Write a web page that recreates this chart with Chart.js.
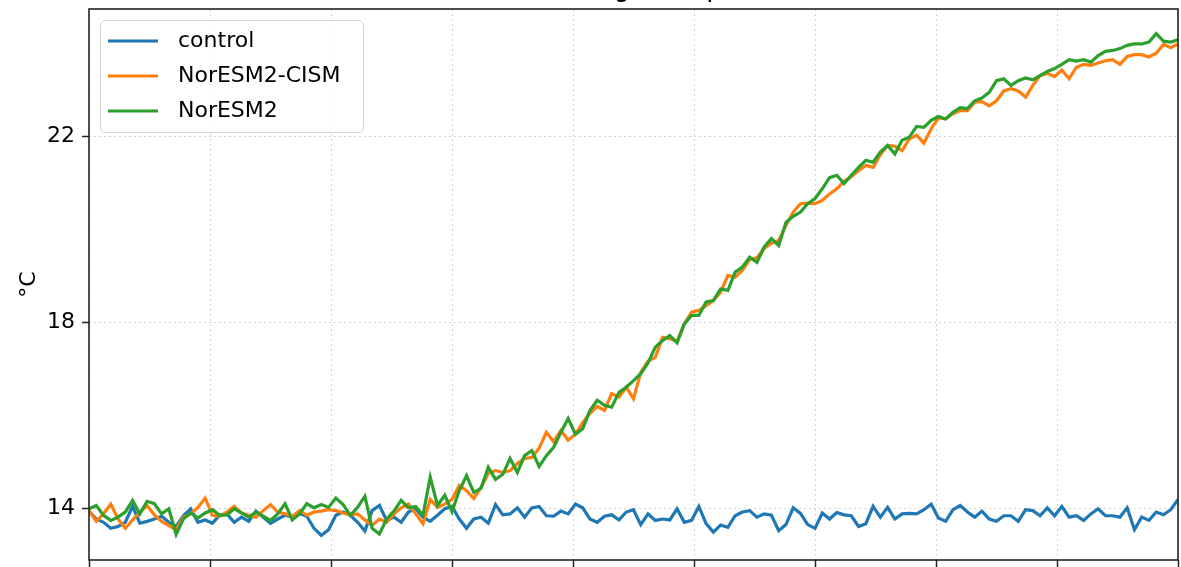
<!DOCTYPE html>
<html>
<head>
<meta charset="utf-8">
<script src="https://cdn.jsdelivr.net/npm/chart.js@4.4.1/dist/chart.umd.min.js"></script>
<style>
html, body { margin: 0; padding: 0; background: #fff; overflow: hidden; width: 1181px; height: 567px; }
#wrap { position: absolute; left: 0; top: -40px; width: 1181px; height: 650px; }
</style>
</head>
<body>
<div id="wrap"><canvas id="myChart" width="1181" height="650"></canvas></div>
<script>
// model years (every 3rd year)
const years = [0,3,6,9,12,15,18,21,24,27,30,33,36,39,42,45,48,51,54,57,60,63,66,69,72,75,78,81,84,87,
  90,93,96,99,102,105,108,111,114,117,120,123,126,129,132,135,138,141,144,147,150,153,156,159,162,165,168,171,174,177,
  180,183,186,189,192,195,198,201,204,207,210,213,216,219,222,225,228,231,234,237,240,243,246,249,252,255,258,261,264,267,
  270,273,276,279,282,285,288,291,294,297,300,303,306,309,312,315,318,321,324,327,330,333,336,339,342,345,348,351,354,357,
  360,363,366,369,372,375,378,381,384,387,390,393,396,399,402,405,408,411,414,417,420,423,426,429,432,435,438,441,444,447,450];

const control = [13.95,13.78,13.71,13.58,13.62,13.71,14.05,13.69,13.73,13.78,13.84,13.71,13.62,13.85,14.0,13.71,13.76,13.69,13.86,13.89,
  13.71,13.82,13.73,13.95,13.82,13.69,13.78,13.86,13.82,13.9,13.84,13.58,13.43,13.55,13.86,13.93,13.86,13.71,13.52,13.96,
  14.07,13.75,13.82,13.71,13.93,14.0,13.82,13.73,13.86,14.0,14.05,13.78,13.58,13.78,13.82,13.69,14.09,13.87,13.89,14.02,
  13.82,14.02,14.05,13.85,13.84,13.95,13.89,14.1,14.02,13.78,13.71,13.84,13.87,13.76,13.93,13.98,13.66,13.89,13.75,13.78,
  13.76,14.0,13.71,13.75,14.05,13.68,13.5,13.65,13.6,13.85,13.93,13.96,13.82,13.89,13.86,13.53,13.66,14.02,13.9,13.66,
  13.58,13.91,13.78,13.92,13.87,13.85,13.62,13.68,14.05,13.82,14.03,13.78,13.89,13.9,13.89,13.98,14.1,13.8,13.73,13.98,
  14.07,13.93,13.82,13.95,13.78,13.73,13.85,13.85,13.73,13.98,13.96,13.85,14.02,13.85,14.05,13.82,13.85,13.75,13.89,14.0,
  13.85,13.85,13.82,14.02,13.55,13.82,13.75,13.93,13.87,13.98,14.2];

const noresm2Cism = [13.96,13.73,13.89,14.1,13.78,13.58,13.76,13.93,14.07,13.87,13.73,13.64,13.55,13.82,13.89,14.03,14.23,13.86,13.84,13.93,
  14.05,13.91,13.86,13.82,13.96,14.09,13.93,13.89,13.84,13.96,13.86,13.93,13.95,13.98,13.96,13.91,13.87,13.89,13.76,13.64,
  13.78,13.71,13.89,14.02,14.1,13.89,13.68,14.2,14.03,14.1,14.2,14.5,14.39,14.22,14.46,14.76,14.82,14.78,14.82,14.97,
  15.08,15.1,15.3,15.64,15.44,15.68,15.47,15.6,15.85,16.05,16.2,16.11,16.47,16.4,16.61,16.36,16.93,17.17,17.25,17.68,
  17.65,17.6,17.97,18.22,18.26,18.36,18.47,18.65,19.01,18.97,19.12,19.35,19.39,19.59,19.7,19.76,20.08,20.37,20.55,20.56,
  20.55,20.62,20.76,20.87,21.03,21.13,21.26,21.37,21.33,21.6,21.8,21.78,21.69,21.94,22.02,21.85,22.16,22.39,22.37,22.48,
  22.55,22.55,22.73,22.74,22.65,22.76,22.97,23.02,22.97,22.84,23.09,23.3,23.35,23.28,23.42,23.23,23.48,23.54,23.52,23.57,
  23.62,23.64,23.54,23.71,23.75,23.75,23.7,23.78,23.97,23.9,23.98];

const noresm2 = [14.0,14.07,13.86,13.75,13.82,13.93,14.18,13.89,14.16,14.11,13.89,14.0,13.45,13.78,13.91,13.8,13.91,13.98,13.86,13.87,
  14.0,13.91,13.82,13.93,13.84,13.75,13.89,14.11,13.76,13.89,14.11,14.02,14.09,14.03,14.23,14.09,13.86,14.03,14.27,13.58,
  13.46,13.78,13.95,14.18,14.02,14.05,13.86,14.68,14.07,14.29,13.94,14.39,14.71,14.35,14.44,14.89,14.63,14.74,15.08,14.78,
  15.14,15.25,14.91,15.14,15.32,15.64,15.94,15.6,15.72,16.11,16.33,16.22,16.18,16.5,16.61,16.75,16.9,17.13,17.47,17.61,
  17.72,17.56,17.97,18.15,18.15,18.44,18.47,18.72,18.69,19.08,19.19,19.4,19.29,19.62,19.8,19.65,20.15,20.28,20.37,20.55,
  20.66,20.87,21.11,21.16,20.98,21.16,21.33,21.48,21.44,21.66,21.8,21.62,21.91,21.98,22.21,22.19,22.34,22.42,22.37,22.51,
  22.61,22.59,22.76,22.82,22.94,23.19,23.23,23.09,23.19,23.25,23.21,23.3,23.39,23.45,23.54,23.64,23.61,23.64,23.59,23.73,
  23.82,23.84,23.88,23.95,23.98,23.98,24.02,24.2,24.04,24.02,24.07];

const xTicks = [0,50,100,150,200,250,300,350,400,450];
const yTicks = [14,18,22];

function pts(vals) {
    return vals.map((v, i) => ({x: years[i], y: v}));
}

// legend drawn inside the axes, matplotlib style
const legendBox = {
    id: 'legendBox',
    afterDatasetsDraw(chart) {
        const ctx = chart.ctx, a = chart.chartArea;
        const x0 = a.left + 11, y0 = a.top + 11;
        ctx.save();
        ctx.beginPath();
        ctx.roundRect(x0 + 0.5, y0 + 0.5, 263, 112, 5);
        ctx.fillStyle = 'rgba(255,255,255,0.8)';
        ctx.fill();
        ctx.strokeStyle = '#d5d5d5';
        ctx.lineWidth = 1;
        ctx.stroke();
        ctx.font = '22px "DejaVu Sans"';
        ctx.textBaseline = 'middle';
        chart.data.datasets.forEach((ds, i) => {
            const yy = y0 + 21 + i * 35;
            ctx.strokeStyle = ds.borderColor;
            ctx.lineWidth = 3;
            ctx.beginPath();
            ctx.moveTo(x0 + 8, yy);
            ctx.lineTo(x0 + 58, yy);
            ctx.stroke();
            ctx.fillStyle = '#000';
            ctx.fillText(ds.label, x0 + 78, yy);
        });
        ctx.restore();
    }
};

const frame = {
    id: 'frame',
    afterDraw(chart) {
        const ctx = chart.ctx, a = chart.chartArea;
        ctx.save();
        ctx.strokeStyle = '#222';
        ctx.lineWidth = 1.6;
        ctx.strokeRect(a.left, a.top, a.right - a.left, a.bottom - a.top);
        ctx.restore();
    }
};

const ctx = document.getElementById('myChart').getContext('2d');
Chart.defaults.font.family = '"DejaVu Sans", sans-serif';
Chart.defaults.color = '#000';

const myChart = new Chart(ctx, {
    type: 'line',
    data: {
        datasets: [
            { label: 'control', data: pts(control), borderColor: '#1f77b4', order: 3 },
            { label: 'NorESM2-CISM', data: pts(noresm2Cism), borderColor: '#ff7f0e', order: 2 },
            { label: 'NorESM2', data: pts(noresm2), borderColor: '#2ca02c', order: 1 }
        ]
    },
    options: {
        responsive: false,
        animation: false,
        elements: {
            line: { borderWidth: 3.2, tension: 0 },
            point: { radius: 0 }
        },
        layout: { padding: { top: 14, right: 3, left: 0, bottom: 0 } },
        plugins: {
            title: {
                display: true,
                text: 'Global average temperature',
                fullSize: false,
                font: { size: 26, weight: 'normal' },
                padding: { top: 0, bottom: 3.8 }
            },
            legend: { display: false },
            tooltip: { enabled: false }
        },
        scales: {
            x: {
                type: 'linear',
                min: 0,
                max: 450,
                afterBuildTicks: s => { s.ticks = xTicks.map(v => ({value: v})); },
                afterFit: s => { s.height = 50; },
                ticks: { display: false },
                border: { display: false, dash: [2, 3] },
                grid: {
                    color: 'rgba(0,0,0,0.17)',
                    lineWidth: 1,
                    tickLength: 8,
                    tickColor: '#222',
                    tickWidth: 1.5
                }
            },
            y: {
                type: 'linear',
                min: 12.9,
                max: 24.73,
                afterBuildTicks: s => { s.ticks = yTicks.map(v => ({value: v})); },
                afterFit: s => { s.width = 89; },
                ticks: { padding: 7, font: { size: 22 } },
                border: { display: false, dash: [2, 3] },
                grid: {
                    color: 'rgba(0,0,0,0.17)',
                    lineWidth: 1,
                    tickLength: 7,
                    tickColor: '#222',
                    tickWidth: 1.5
                },
                title: {
                    display: true,
                    text: '°C',
                    font: { size: 22 },
                    padding: { top: 16, bottom: 0 }
                }
            }
        }
    },
    plugins: [legendBox, frame]
});
</script>
</body>
</html>
